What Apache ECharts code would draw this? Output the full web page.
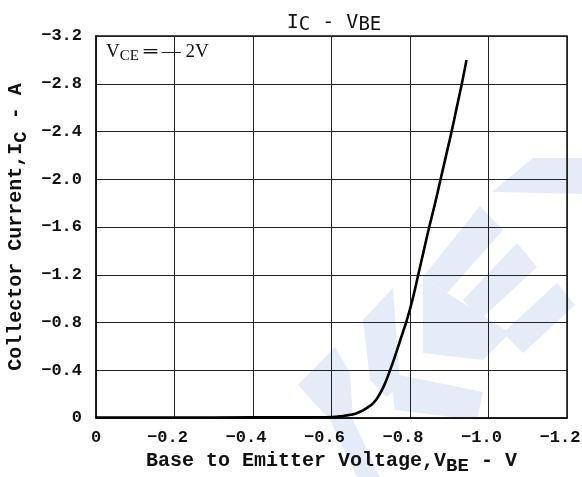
<!DOCTYPE html>
<html><head><meta charset="utf-8">
<script src="https://cdn.jsdelivr.net/npm/echarts@6/dist/echarts.min.js"></script>
<style>html,body{margin:0;padding:0;background:#fff}#c{width:582px;height:477px}</style>
</head><body><div id="c"></div>
<script>
// Data (V_BE in volts, I_C in amperes)
const vbe = [0, -0.2, -0.4, -0.5, -0.56, -0.6, -0.63, -0.65, -0.664, -0.68, -0.695, -0.707, -0.72, -0.733, -0.748, -0.76, -0.772, -0.782, -0.792, -0.807, -0.821, -0.835, -0.849, -0.864, -0.878, -0.892, -0.906, -0.919, -0.932, -0.944];
const ic  = [-0.004, -0.004, -0.005, -0.005, -0.006, -0.008, -0.017, -0.028, -0.04, -0.064, -0.095, -0.126, -0.185, -0.265, -0.39, -0.5, -0.62, -0.72, -0.82, -1.0, -1.2, -1.4, -1.6, -1.8, -2.0, -2.2, -2.4, -2.6, -2.8, -3.0];
const xTicks = [0, -0.2, -0.4, -0.6, -0.8, -1.0, -1.2];
const yTicks = [0, -0.4, -0.8, -1.2, -1.6, -2.0, -2.4, -2.8, -3.2];

const fmt = v => Math.abs(v) < 1e-9 ? '0' : '\u2212' + Math.abs(v).toFixed(1);
const wm = '#e6ecf7';
const poly = pts => ({type:'polygon', z:-10, shape:{points:pts}, style:{fill:wm}});

const chart = echarts.init(document.getElementById('c'), null, {renderer:'canvas'});
chart.setOption({
  animation:false,
  backgroundColor:'#fff',
  title:{
    text:'I{s|C} - V{s|BE}', left:329, top:5, textAlign:'center',
    textStyle:{fontFamily:'DejaVu Sans Mono', fontSize:20, fontWeight:'normal', color:'#111',
      rich:{s:{fontFamily:'DejaVu Sans Mono', fontSize:19, color:'#111', padding:[6,0,0,0]}}}
  },
  grid:{left:96, right:15, top:36, bottom:59, containLabel:false, outerBoundsMode:'none',
    show:true, borderColor:'#111', borderWidth:1.5, backgroundColor:'transparent'},
  graphic:[
    poly([[298,385],[335,347],[350,373],[353,420],[380,477],[357,477],[330,420]]),
    poly([[363,320],[393,288],[400,383],[387,397],[370,380]]),
    poly([[390,373],[483,392],[477,420],[395,410]]),
    poly([[423,277],[480,206],[503,230],[447,293]]),
    poly([[463,300],[517,243],[537,267],[480,320]]),
    poly([[503,333],[557,283],[575,305],[523,353]]),
    poly([[423,277],[447,293],[510,333],[483,360],[423,353]]),
    poly([[492,192],[533,158],[582,158],[582,194]]),
    {type:'text', left:106, top:43, z:10,
      style:{text:'V{s|CE} \u2550 \u2014 2V', fontFamily:'Liberation Serif', fontSize:19, fill:'#111',
        rich:{s:{fontFamily:'Liberation Serif', fontSize:15, fill:'#111', padding:[7,0,0,0]}}}}
  ],
  xAxis:{
    type:'value', min:-1.2, max:0, interval:0.2, inverse:true,
    name:'Base to Emitter Voltage,V{s|BE} - V', nameLocation:'middle', nameGap:26,
    nameTextStyle:{fontFamily:'Liberation Mono', fontWeight:'bold', fontSize:20, color:'#111',
      rich:{s:{fontFamily:'Liberation Mono', fontWeight:'bold', fontSize:19, color:'#111', padding:[10,0,0,0]}}},
    axisLine:{show:true, lineStyle:{color:'#111', width:1.5}},
    axisTick:{show:false},
    axisLabel:{margin:11, color:'#111', fontFamily:'Liberation Mono', fontWeight:'bold', fontSize:17,
      formatter: v => Math.abs(v) < 1e-9 ? '{z|0}' : '{n|' + fmt(v) + '}',
      rich:{z:{fontFamily:'Liberation Mono', fontWeight:'bold', fontSize:17, color:'#111'},
            n:{fontFamily:'Liberation Mono', fontWeight:'bold', fontSize:17, color:'#111', padding:[0,14,0,0]}}},
    splitLine:{show:true, lineStyle:{color:'#222', width:1}}
  },
  yAxis:{
    type:'value', min:-3.2, max:0, interval:0.4, inverse:true,
    name:'Collector Current,I{s|C} - A', nameLocation:'middle', nameGap:63,
    nameTextStyle:{fontFamily:'Liberation Mono', fontWeight:'bold', fontSize:20, color:'#111',
      rich:{s:{fontFamily:'Liberation Mono', fontWeight:'bold', fontSize:19, color:'#111', padding:[10,0,0,0]}}},
    axisLine:{show:true, lineStyle:{color:'#111', width:1.5}},
    axisTick:{show:false},
    axisLabel:{margin:14, color:'#111', fontFamily:'Liberation Mono', fontWeight:'bold', fontSize:17, formatter:fmt},
    splitLine:{show:true, lineStyle:{color:'#222', width:1}}
  },
  series:[{
    type:'line', data: vbe.map((v,i)=>[v, ic[i]]), smooth:0.5,
    showSymbol:false, lineStyle:{color:'#000', width:2.6}, z:5
  }]
});
</script></body></html>
